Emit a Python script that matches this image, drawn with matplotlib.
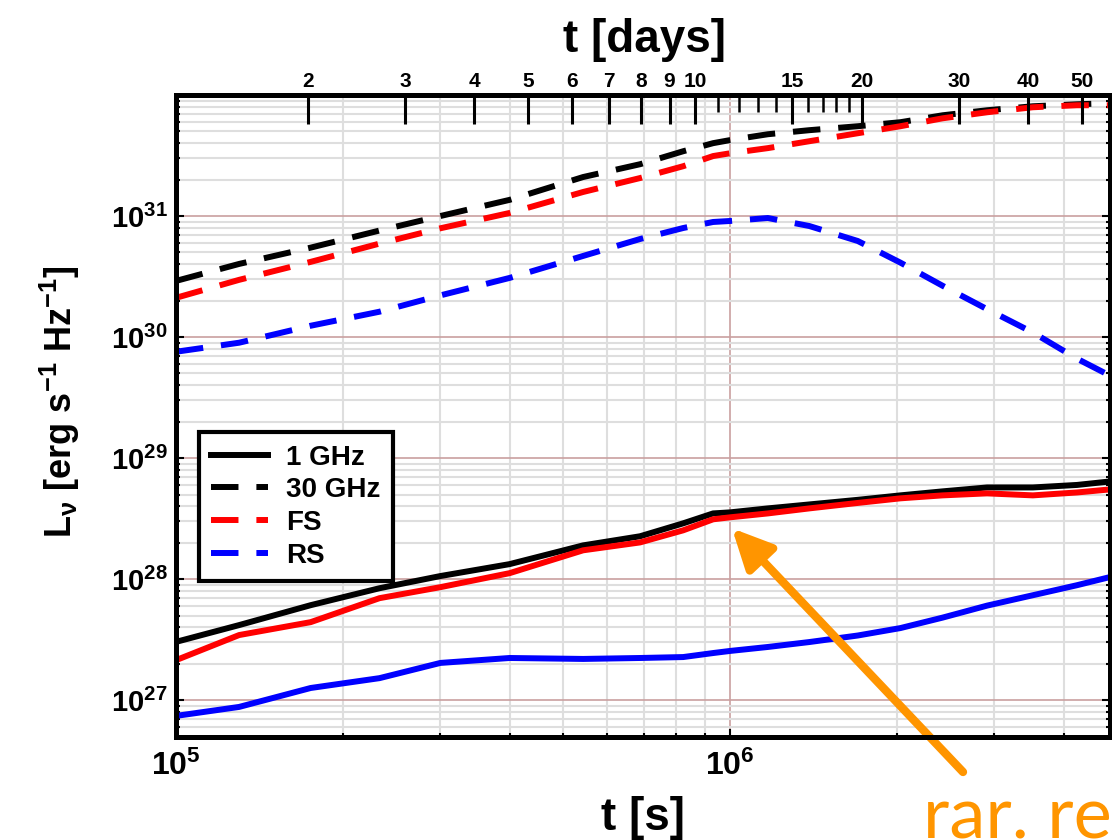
import numpy as np
import matplotlib
matplotlib.use("Agg")
import matplotlib.pyplot as plt
from matplotlib.lines import Line2D
from matplotlib.ticker import FixedLocator, LogLocator, NullFormatter

plt.rcParams['font.family'] = ['Liberation Sans', 'DejaVu Sans']
plt.rcParams['font.weight'] = 'bold'
plt.rcParams['mathtext.fontset'] = 'custom'
plt.rcParams['mathtext.rm'] = 'Liberation Sans:bold'
plt.rcParams['mathtext.it'] = 'Liberation Sans:bold'
plt.rcParams['mathtext.bf'] = 'Liberation Sans:bold'
plt.rcParams['mathtext.sf'] = 'Liberation Sans:bold'

DAY = 86400.0

# light curves, time in seconds
t_s = [1.0e5, 1.3e5, 1.75e5, 2.33e5, 3.0e5, 4.0e5, 5.43e5, 6.88e5, 8.23e5, 9.32e5,
       1.0e6, 1.17e6, 1.39e6, 1.70e6, 2.03e6, 2.42e6, 2.91e6, 3.52e6, 4.23e6, 4.85e6]

# 1 GHz: total, forward shock, reverse shock
tot_1 = [3.03e27, 4.17e27, 6.09e27, 8.41e27, 1.06e28, 1.33e28, 1.90e28, 2.26e28, 2.89e28, 3.49e28,
         3.56e28, 3.84e28, 4.14e28, 4.52e28, 4.92e28, 5.31e28, 5.72e28, 5.72e28, 6.00e28, 6.41e28]
fs_1 = [2.14e27, 3.45e27, 4.41e27, 6.96e27, 8.58e27, 1.12e28, 1.73e28, 2.01e28, 2.53e28, 3.12e28,
        3.24e28, 3.49e28, 3.84e28, 4.26e28, 4.65e28, 4.92e28, 5.11e28, 4.92e28, 5.20e28, 5.51e28]
rs_1 = [7.41e26, 8.79e26, 1.26e27, 1.52e27, 2.03e27, 2.23e27, 2.19e27, 2.23e27, 2.27e27, 2.45e27,
        2.55e27, 2.75e27, 3.02e27, 3.42e27, 3.94e27, 4.81e27, 6.04e27, 7.36e27, 8.91e27, 1.04e28]

# 30 GHz: total, forward shock, reverse shock
tot_30 = [2.91e30, 4.02e30, 5.48e30, 7.59e30, 1.00e31, 1.36e31, 2.10e31, 2.68e31, 3.43e31, 4.00e31,
          4.24e31, 4.74e31, 5.12e31, 5.52e31, 5.96e31, 6.80e31, 7.48e31, 8.07e31, 8.38e31, 8.55e31]
fs_30 = [2.11e30, 2.97e30, 4.18e30, 5.92e30, 7.92e30, 1.06e31, 1.58e31, 2.06e31, 2.58e31, 3.13e31,
         3.30e31, 3.64e31, 4.15e31, 4.83e31, 5.52e31, 6.42e31, 7.20e31, 7.92e31, 8.23e31, 8.23e31]
rs_30 = [7.56e29, 8.98e29, 1.24e30, 1.62e30, 2.21e30, 3.08e30, 4.68e30, 6.46e30, 7.96e30, 8.93e30,
         9.10e30, 9.63e30, 8.27e30, 6.22e30, 4.12e30, 2.65e30, 1.70e30, 1.09e30, 6.62e29, 4.80e29]

x_ticks = [1e5, 1e6]
x_ticklabels = [r'$10^{5}$', r'$10^{6}$']
y_ticks = [1e27, 1e28, 1e29, 1e30, 1e31]
y_ticklabels = [r'$10^{27}$', r'$10^{28}$', r'$10^{29}$', r'$10^{30}$', r'$10^{31}$']
day_ticks = [2, 3, 4, 5, 6, 7, 8, 9, 10, 15, 20, 30, 40, 50]
day_minor = [11, 12, 13, 14, 16, 17, 18, 19]

legend_labels = ['1 GHz', '30 GHz', 'FS', 'RS']

W, H = 1112, 840
fig = plt.figure(figsize=(W / 100, H / 100), dpi=100)
ax = fig.add_axes([176 / W, 1 - 737 / H, 934 / W, 642 / H])

dash = (0, (4.6, 3.0))
lw = 4.3
ax.plot(t_s, tot_1, color='black', lw=lw, solid_capstyle='butt')
ax.plot(t_s, tot_30, color='black', lw=lw, linestyle=dash)
ax.plot(t_s, fs_1, color='#ff0000', lw=lw)
ax.plot(t_s, fs_30, color='#ff0000', lw=lw, linestyle=dash)
ax.plot(t_s, rs_1, color='#0000ff', lw=lw)
ax.plot(t_s, rs_30, color='#0000ff', lw=lw, linestyle=dash)

ax.set_xscale('log')
ax.set_yscale('log')
ax.set_xlim(1e5, 4.85e6)
ax.set_ylim(4.96e26, 1e32)

ax.xaxis.set_major_locator(FixedLocator(x_ticks))
ax.set_xticklabels(x_ticklabels)
ax.xaxis.set_minor_locator(LogLocator(base=10, subs=np.arange(2, 10)))
ax.xaxis.set_minor_formatter(NullFormatter())
ax.yaxis.set_major_locator(FixedLocator(y_ticks))
ax.set_yticklabels(y_ticklabels)
ax.yaxis.set_minor_locator(LogLocator(base=10, subs=np.arange(2, 10), numticks=20))
ax.yaxis.set_minor_formatter(NullFormatter())

ax.set_axisbelow(True)
ax.grid(which='major', color='#caa0a0', lw=1.2)
ax.grid(which='minor', color='#dedede', lw=1.5)

ax.tick_params(which='both', direction='in', top=False, right=True, width=1.5)
ax.tick_params(which='major', length=6)
ax.tick_params(which='minor', length=3)
ax.tick_params(axis='y', labelsize=21, pad=6)
ax.tick_params(axis='x', labelsize=23, pad=10)
for s in ax.spines.values():
    s.set_linewidth(3.6)

# days on the top axis
ax2 = ax.twiny()
ax2.set_xscale('log')
ax2.set_xlim(1e5 / DAY, 4.85e6 / DAY)
ax2.xaxis.set_major_locator(FixedLocator(day_ticks))
ax2.set_xticklabels([str(d) for d in day_ticks])
ax2.xaxis.set_minor_locator(FixedLocator(day_minor))
ax2.xaxis.set_minor_formatter(NullFormatter())
ax2.tick_params(which='major', direction='in', length=21, width=2.2, labelsize=15, pad=3)
ax2.tick_params(which='minor', direction='in', length=12, width=1.8)
for s in ax2.spines.values():
    s.set_linewidth(3.6)

fig.text(645 / W, 1 - 40 / H, 't [days]', fontsize=33, ha='center', va='center')
fig.text(643 / W, 1 - 818 / H, 't [s]', fontsize=33, ha='center', va='center')
fig.text(60 / W, 1 - 402 / H, r'L$_{\nu}$ [erg s$^{-1}$ Hz$^{-1}$]', fontsize=26,
         rotation=90, ha='center', va='center')

handles = [
    Line2D([], [], color='black', lw=lw),
    Line2D([], [], color='black', lw=lw, linestyle=dash),
    Line2D([], [], color='#ff0000', lw=lw, linestyle=dash),
    Line2D([], [], color='#0000ff', lw=lw, linestyle=dash),
]
leg = ax.legend(handles, legend_labels, loc='upper left', bbox_to_anchor=(0.0246, 0.475),
                borderaxespad=0, fancybox=False, framealpha=1, edgecolor='black',
                prop={'size': 20, 'weight': 'bold'}, handlelength=2.05, handletextpad=0.65,
                labelspacing=0.24, borderpad=0.45)
leg.get_frame().set_linewidth(3)

# arrow pointing at the kink near 1e6 s
orange = '#ff9500'
ax.annotate('', xy=(1.008e6, 2.63e28), xycoords='data',
            xytext=(963, H - 772), textcoords='figure pixels',
            arrowprops=dict(arrowstyle='-|>,head_length=1.2,head_width=0.58',
                            mutation_scale=20, lw=6, color=orange,
                            shrinkA=0, shrinkB=0),
            annotation_clip=False)
fig.text(923 / W, 1 - 837 / H, 'rar. reaches', fontsize=52, color=orange,
         family='Lato', weight='normal', ha='left', va='baseline')

fig.savefig('out.png', dpi=100)
